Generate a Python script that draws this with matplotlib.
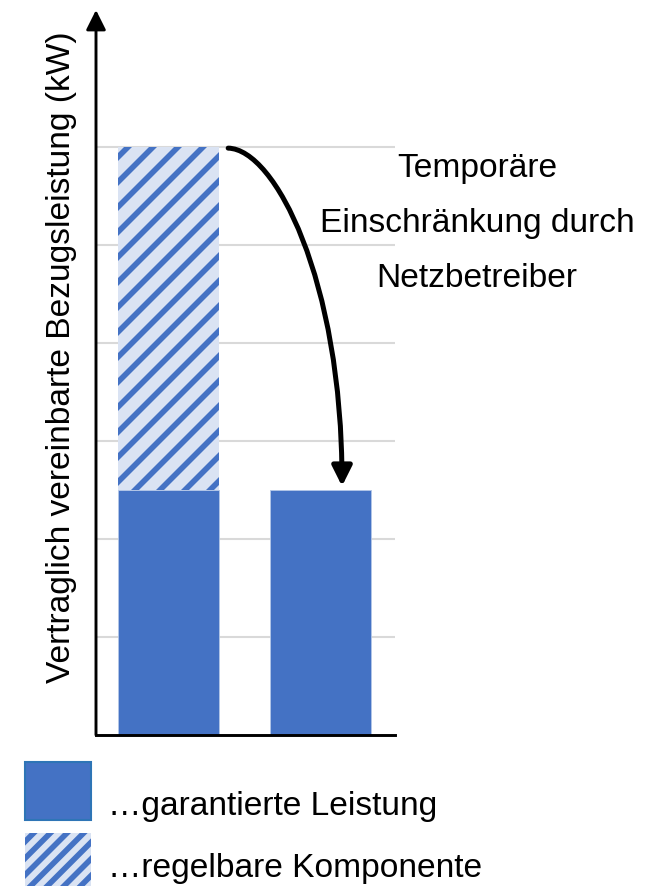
import matplotlib
matplotlib.use('Agg')
import matplotlib.pyplot as plt
from matplotlib.patches import Rectangle, FancyArrowPatch
from matplotlib.path import Path

# Daten (Einheiten der Gitterlinien)
kategorien = ['ohne Eingriff', 'mit Eingriff']
garantiert = [2.5, 2.5]
regelbar = [3.5, 0.0]
gitter = [1, 2, 3, 4, 5, 6]
hinweis = ['Temporäre', 'Einschränkung durch', 'Netzbetreiber']
legende = ['…garantierte Leistung', '…regelbare Komponente']
y_titel = 'Vertraglich vereinbarte Bezugsleistung (kW)'

blau = '#4472C4'
hellblau = '#DAE3F3'

plt.rcParams['font.family'] = ['Liberation Sans', 'DejaVu Sans']
plt.rcParams['hatch.linewidth'] = 2.7
fs = 16.1

W, H = 657, 886
fig = plt.figure(figsize=(W / 150, H / 150), dpi=150)
ax = fig.add_axes([96 / W, 151 / H, 299 / W, 725 / H])

x = list(range(len(kategorien)))
breite = 0.667
ax.bar(x, garantiert, width=breite, color=blau, edgecolor='#B4C7E7', linewidth=0.4, zorder=2)
ax.bar(x, regelbar, bottom=garantiert, width=breite, color=hellblau,
       edgecolor=blau, linewidth=0, hatch='//', zorder=2)

ax.set_xlim(-0.48, 1.495)
ax.set_ylim(0, 7.4)
ax.set_yticks(gitter)
ax.set_xticks([])
ax.tick_params(axis='y', length=0, labelleft=False)
ax.yaxis.grid(True, color='#D9D9D9', linewidth=1.0)
ax.set_axisbelow(True)
for s in ['top', 'right', 'left']:
    ax.spines[s].set_visible(False)
ax.spines['bottom'].set_linewidth(1.4)

# y-Achse als Pfeil
ax.annotate('', xy=(0, 1), xytext=(0, 0), xycoords='axes fraction',
            arrowprops=dict(arrowstyle='-|>,head_length=0.4,head_width=0.2',
                            mutation_scale=20, lw=1.4, color='black',
                            shrinkA=0, shrinkB=0), annotation_clip=False)

# gebogener Pfeil von der Gesamtleistung zur garantierten Leistung
oben = garantiert[0] + regelbar[0]
pfad = Path([(0.393, oben - 0.01), (0.703, oben - 0.02), (1.145, 4.64), (1.145, garantiert[1] + 0.04)],
            [Path.MOVETO, Path.CURVE4, Path.CURVE4, Path.CURVE4])
pfeil = FancyArrowPatch(path=pfad, arrowstyle='-|>,head_length=0.4,head_width=0.2',
                        mutation_scale=20, lw=2.4, color='black', zorder=3)
ax.add_patch(pfeil)

for i, zeile in enumerate(hinweis):
    fig.text(477 / W, 1 - (177 + 55 * i) / H, zeile, ha='center', va='baseline', fontsize=fs)

fig.text(70 / W, 1 - 357 / H, y_titel, rotation=90, rotation_mode='anchor',
         ha='center', va='baseline', fontsize=fs)

# Legende
fig.add_artist(Rectangle((25 / W, 1 - 820 / H), 66 / W, 58 / H, transform=fig.transFigure,
                         facecolor=blau, edgecolor='#2E75B6', linewidth=1.0))
fig.add_artist(Rectangle((25 / W, 0), 66 / W, 53 / H, transform=fig.transFigure,
                         facecolor=hellblau, edgecolor=blau, linewidth=0, hatch='///'))
fig.text(108 / W, 1 - 815 / H, legende[0], ha='left', va='baseline', fontsize=fs)
fig.text(108 / W, 1 - 877 / H, legende[1], ha='left', va='baseline', fontsize=fs)

fig.savefig('out.png', dpi=150)
